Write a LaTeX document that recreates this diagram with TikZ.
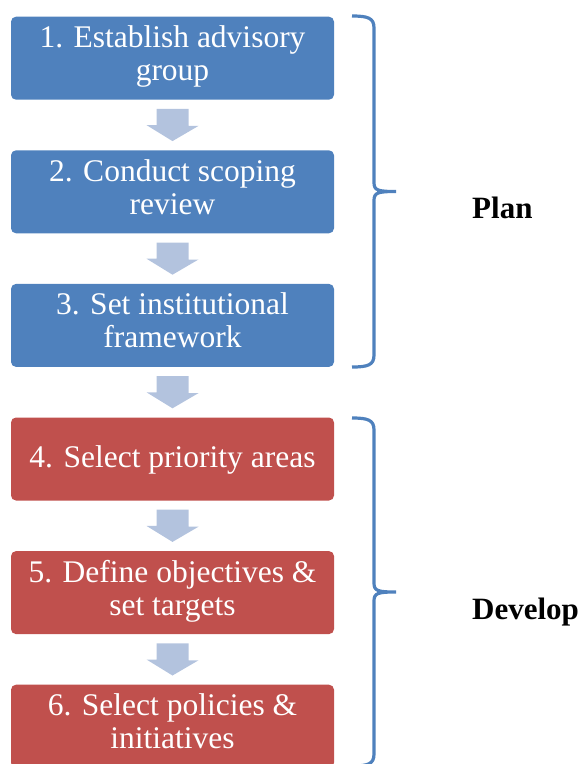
\documentclass[tikz,border=0pt]{standalone}
\usepackage{fontspec}
\setmainfont{Liberation Serif}
\usetikzlibrary{calc}

\definecolor{planblue}{HTML}{4F81BD}
\definecolor{devred}{HTML}{C0504D}
\definecolor{flowblue}{HTML}{B3C3DE}

\tikzset{
  stepbox/.style={rounded corners=5pt, minimum width=323pt, minimum height=83pt,
    inner sep=0pt, align=center, text=white,
    font=\fontsize{31.5}{33}\selectfont,
    execute at begin node=\rule{0pt}{27pt}, execute at end node=\strut},
  flow/.style={fill=flowblue},
  bracket/.style={draw=planblue, line width=3.2pt},
  phase/.style={inner sep=0pt, font=\fontsize{31}{33}\selectfont\bfseries}
}

\begin{document}
\begin{tikzpicture}[x=1pt,y=-1pt]

\useasboundingbox (0,0) rectangle (582,764);

% Steps
\foreach \n/\txt/\col in {1/{1. Establish advisory\\group}/planblue,
                          2/{2. Conduct scoping\\review}/planblue,
                          3/{3. Set institutional\\framework}/planblue,
                          4/{4. Select priority areas}/devred,
                          5/{5. Define objectives \&\\set targets}/devred,
                          6/{6. Select policies \&\\initiatives}/devred}
  \node[stepbox, fill=\col] (b\n) at (172.5, {58.2+133.6*(\n-1)}) {\txt};

% Block arrows between steps
\foreach \i [evaluate=\i as \j using int(\i+1)] in {1,...,5}
  \fill[flow] ($(b\i.south)+(-16,9)$) -- ++(32,0) -- ++(0,17) -- ++(10,0)
    -- ($(b\j.north)+(0,-9)$) -- ++(-26,-16) -- ++(10,0) -- cycle;

% Brackets and phase names
\foreach \ya/\yb/\lbl in {16/367/Plan, 418/766/Develop} {
  \pgfmathsetmacro\ym{(\ya+\yb)/2}
  \draw[bracket] (352,\ya) .. controls (368,\ya) and (374,\ya+2) .. (374,\ya+12)
    -- (374,\ym-9) .. controls (374,\ym-1) and (378,\ym) .. (396,\ym)
    .. controls (378,\ym) and (374,\ym+1) .. (374,\ym+9)
    -- (374,\yb-12) .. controls (374,\yb-2) and (368,\yb) .. (352,\yb);
  \node[phase, anchor=base west] (lbl-\lbl) at (472,\ym+27) {\lbl};
}

\end{tikzpicture}
\end{document}
